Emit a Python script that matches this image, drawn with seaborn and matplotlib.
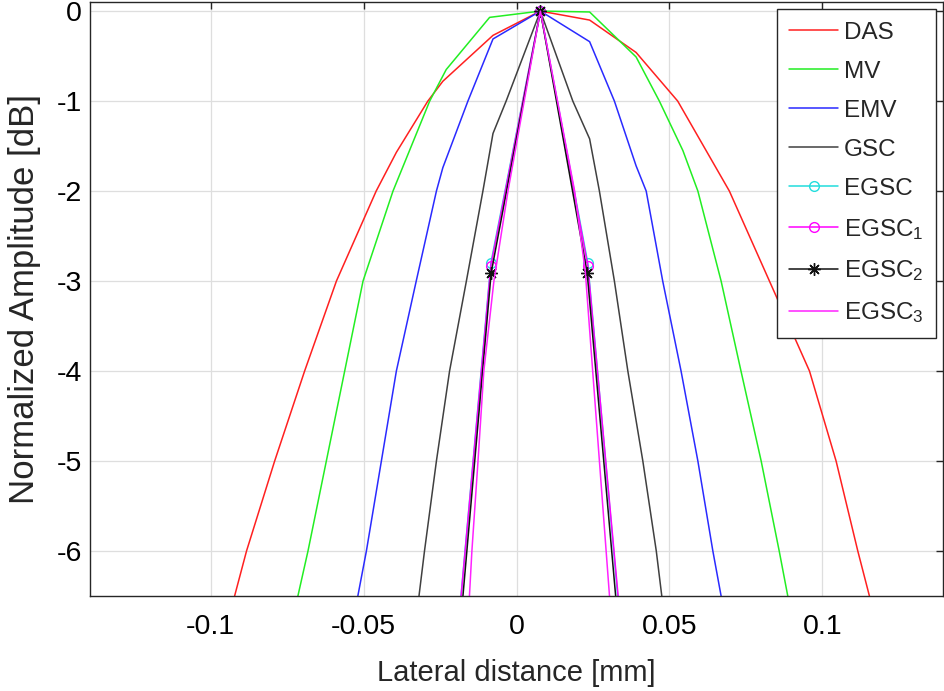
"""
Lateral beam profiles of the compared beamformers (normalized amplitude
against lateral distance), redrawn with seaborn.
"""

import matplotlib
matplotlib.use("Agg")
import matplotlib.pyplot as plt
import seaborn as sns

# values: lateral distance [mm], amplitude [dB]
das_x = [-0.0922, -0.0883, -0.0791, -0.0693, -0.0589, -0.0459, -0.0393,
         -0.029, -0.0241, -0.0077, 0.0078, 0.0239, 0.0391, 0.0527, 0.0696,
         0.0827, 0.0958, 0.1045, 0.1116, 0.1154]
das_y = [-6.5, -6, -5, -4, -3, -2, -1.57, -1, -0.78, -0.27, 0, -0.1, -0.46,
         -1, -2, -3, -4, -5, -6, -6.5]

mv_x = [-0.0715, -0.0682, -0.0622, -0.0562, -0.0502, -0.0404, -0.0284,
        -0.023, -0.0088, 0.0078, 0.0239, 0.0391, 0.0467, 0.0544, 0.0593,
        0.0669, 0.0734, 0.08, 0.0859, 0.0887]
mv_y = [-6.5, -6, -5, -4, -3, -2, -1, -0.65, -0.07, 0, -0.01, -0.51, -1,
        -1.55, -2, -3, -4, -5, -6, -6.5]

emv_x = [-0.0519, -0.0491, -0.0442, -0.0393, -0.0328, -0.0262, -0.0241,
         -0.0159, -0.0077, 0.0078, 0.0239, 0.032, 0.0391, 0.0424, 0.0478,
         0.0538, 0.0593, 0.0642, 0.0669]
emv_y = [-6.5, -6, -5, -4, -3, -2, -1.74, -1, -0.31, 0, -0.34, -1, -1.72,
         -2, -3, -4, -5, -6, -6.5]

gsc_x = [-0.0319, -0.0301, -0.0262, -0.0219, -0.0164, -0.011, -0.0077,
         -0.0034, 0.0078, 0.0184, 0.0239, 0.0271, 0.032, 0.0364, 0.0413,
         0.0457, 0.0475]
gsc_y = [-6.5, -6, -5, -4, -3, -2, -1.36, -1, 0, -1, -1.42, -2, -3, -4, -5,
         -6, -6.5]

egsc_x = [-0.0237, -0.0084, 0.0078, 0.0233, 0.0389]
egsc_y = [-8.6, -2.8, 0, -2.8, -8.7]

egsc1_x = [-0.0237, -0.0084, 0.0078, 0.0233, 0.0389]
egsc1_y = [-8.6, -2.83, 0, -2.83, -8.6]

egsc2_x = [-0.0237, -0.0083, 0.0078, 0.0231, 0.0389]
egsc2_y = [-8.9, -2.91, 0, -2.91, -9.0]

egsc3_x = [-0.0154, -0.0146, -0.0126, -0.0107, -0.0074, -0.0028, 0.0078,
           0.019, 0.0225, 0.0249, 0.0271, 0.0293, 0.0304]
egsc3_y = [-6.5, -6, -5, -4, -3, -2, 0, -2, -2.9, -4, -5, -6, -6.5]

x_ticks = [-0.1, -0.05, 0, 0.05, 0.1]
x_tick_labels = ["-0.1", "-0.05", "0", "0.05", "0.1"]
y_ticks = [0, -1, -2, -3, -4, -5, -6]
y_tick_labels = ["0", "-1", "-2", "-3", "-4", "-5", "-6"]


def draw_profile(ax, x, y, label, color, **kws):
    """
    One beam profile as a seaborn line.
    """
    sns.lineplot(x=x, y=y, ax=ax, label=label, color=color, sort=False,
                 estimator=None, linewidth=1.1, **kws)


def main():
    sns.set_style("white")
    plt.rcParams["font.family"] = ["Liberation Sans", "DejaVu Sans"]
    plt.rcParams["mathtext.fontset"] = "custom"
    plt.rcParams["mathtext.rm"] = "Liberation Sans"
    plt.rcParams["mathtext.default"] = "regular"

    fig, ax = plt.subplots(figsize=(9.45, 6.91), dpi=100)
    fig.subplots_adjust(left=0.0952, right=0.998, bottom=0.1375, top=0.997)

    draw_profile(ax, das_x, das_y, "DAS", "#ff2020")
    draw_profile(ax, mv_x, mv_y, "MV", "#22ee22")
    draw_profile(ax, emv_x, emv_y, "EMV", "#2a2aff")
    draw_profile(ax, gsc_x, gsc_y, "GSC", "#404040")
    draw_profile(ax, egsc_x, egsc_y, "EGSC", "#22dddd", marker="o",
                 markersize=7, markerfacecolor="none",
                 markeredgecolor="#22dddd", markeredgewidth=1)
    draw_profile(ax, egsc1_x, egsc1_y, "EGSC$_1$", "#ff00ff", marker="o",
                 markersize=7, markerfacecolor="none",
                 markeredgecolor="#ff00ff", markeredgewidth=1)
    draw_profile(ax, egsc2_x, egsc2_y, "EGSC$_2$", "#111111",
                 marker=(8, 2, 0), markersize=9,
                 markeredgecolor="#111111", markeredgewidth=1)
    draw_profile(ax, egsc3_x, egsc3_y, "EGSC$_3$", "#ff22ff")

    ax.set_xlim(-0.1395, 0.1395)
    ax.set_ylim(-6.5, 0.1)
    ax.set_xticks(x_ticks)
    ax.set_xticklabels(x_tick_labels)
    ax.set_yticks(y_ticks)
    ax.set_yticklabels(y_tick_labels)
    ax.grid(True, color="#dedede", linewidth=0.9)
    ax.set_axisbelow(True)
    for spine in ax.spines.values():
        spine.set_color("#262626")
        spine.set_linewidth(1)
    ax.tick_params(axis="both", direction="in", length=5, width=1,
                   color="#262626", labelcolor="black", labelsize=20.5,
                   top=True, right=True)
    ax.tick_params(axis="x", pad=13)
    ax.tick_params(axis="y", pad=6)

    ax.set_xlabel("Lateral distance [mm]", fontsize=21, labelpad=14)
    ax.set_ylabel("Normalized Amplitude [dB]", fontsize=25, labelpad=11)

    ax.legend(loc="upper right", fontsize=17.5, frameon=True, fancybox=False,
              edgecolor="#262626", framealpha=1, handlelength=2.0,
              handletextpad=0.25, labelspacing=0.7, borderaxespad=0.3,
              borderpad=0.5)

    plt.savefig("out.png", dpi=100)


if __name__ == '__main__':
    main()
